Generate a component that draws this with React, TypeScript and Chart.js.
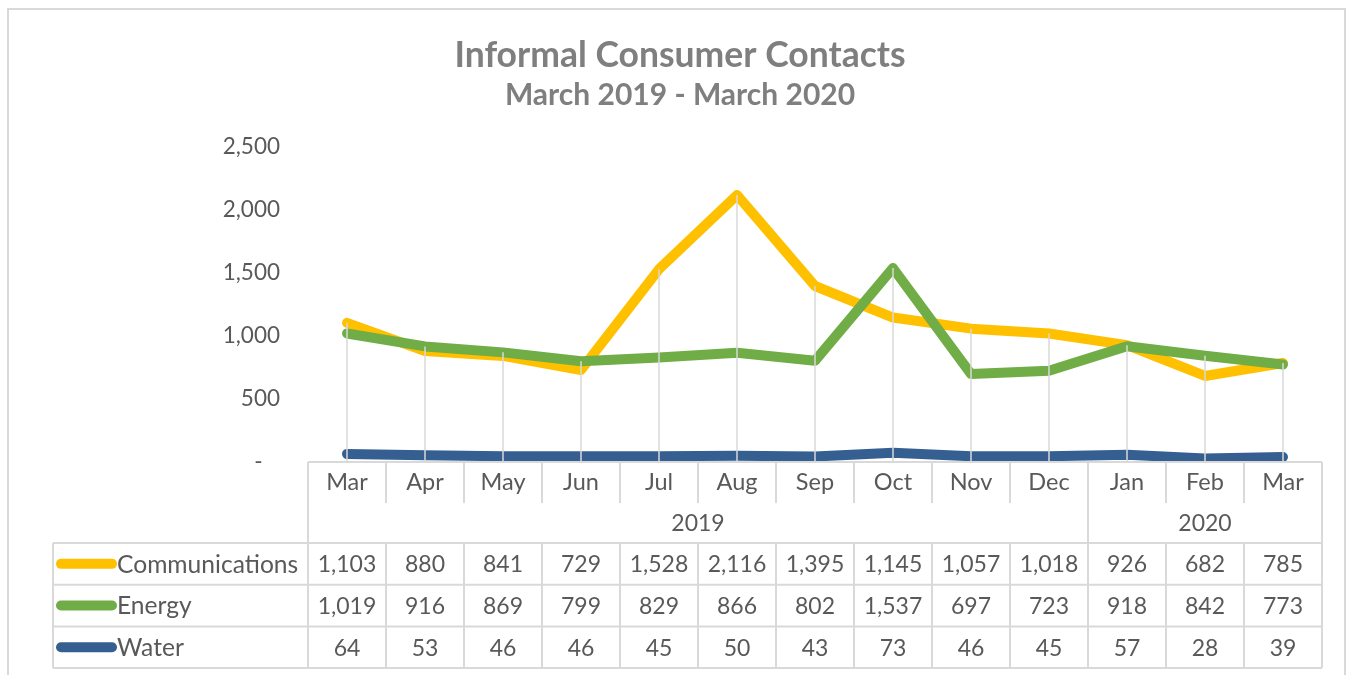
import React, { useEffect, useRef } from 'react';
import { Chart, registerables } from 'chart.js';

Chart.register(...registerables);

const months = ['Mar', 'Apr', 'May', 'Jun', 'Jul', 'Aug', 'Sep', 'Oct', 'Nov', 'Dec', 'Jan', 'Feb', 'Mar'];
const years = ['2019', '2020'];
const yearSpans = [10, 3];
const communications = [1103, 880, 841, 729, 1528, 2116, 1395, 1145, 1057, 1018, 926, 682, 785];
const energy = [1019, 916, 869, 799, 829, 866, 802, 1537, 697, 723, 918, 842, 773];
const water = [64, 53, 46, 46, 45, 50, 43, 73, 46, 45, 57, 28, 39];
const seriesNames = ['Communications', 'Energy', 'Water'];
const seriesData = [communications, energy, water];
const seriesColors = ['#FFC000', '#70AD47', '#355F91'];
const yMax = 2500;
const yStep = 500;
const titleText = 'Informal Consumer Contacts';
const subtitleText = 'March 2019 - March 2020';

const FONT = 'Lato';
const TEXT = '#595959';
const LINE = '#d9d9d9';

const fmt = (v: number) => v.toLocaleString('en-US');

const framePlugin = {
  id: 'frame',
  beforeDraw(chart: any) {
    const { ctx, width, height } = chart;
    ctx.save();
    ctx.fillStyle = '#ffffff';
    ctx.fillRect(0, 0, width, height);
    ctx.strokeStyle = LINE;
    ctx.lineWidth = 2;
    ctx.strokeRect(8, 9, width - 16, height + 20);
    ctx.restore();
  },
};

const dropLinePlugin = {
  id: 'dropLines',
  afterDatasetsDraw(chart: any) {
    const { ctx, chartArea, scales } = chart;
    const x = scales.x;
    const y = scales.y;
    ctx.save();
    ctx.strokeStyle = LINE;
    ctx.lineWidth = 1.5;
    for (let i = 0; i < months.length; i++) {
      let top = chartArea.bottom;
      seriesData.forEach((d) => {
        top = Math.min(top, y.getPixelForValue(d[i]));
      });
      const px = x.getPixelForValue(i);
      ctx.beginPath();
      ctx.moveTo(px, top);
      ctx.lineTo(px, chartArea.bottom);
      ctx.stroke();
    }
    ctx.restore();
  },
};

const tablePlugin = {
  id: 'dataTable',
  afterDraw(chart: any) {
    const { ctx, chartArea, scales } = chart;
    const x = scales.x;
    const n = months.length;
    const half = (x.getPixelForValue(1) - x.getPixelForValue(0)) / 2;
    const left = x.getPixelForValue(0) - half;
    const right = x.getPixelForValue(n - 1) + half;
    const top = chartArea.bottom;
    const monthBottom = top + 41;
    const yearBottom = monthBottom + 40;
    const rowH = 41.7;
    const legendLeft = 53;
    const tableBottom = yearBottom + rowH * seriesNames.length;

    ctx.save();
    ctx.strokeStyle = LINE;
    ctx.lineWidth = 2;
    const line = (x1: number, y1: number, x2: number, y2: number) => {
      ctx.beginPath();
      ctx.moveTo(x1, y1);
      ctx.lineTo(x2, y2);
      ctx.stroke();
    };
    line(left, top, right, top);
    for (let i = 0; i <= n; i++) {
      const bx = left + i * half * 2;
      line(bx, top, bx, monthBottom);
    }
    let acc = 0;
    line(left, monthBottom, left, yearBottom);
    yearSpans.forEach((s) => {
      acc += s;
      const bx = left + acc * half * 2;
      line(bx, monthBottom, bx, yearBottom);
    });
    for (let r = 0; r <= seriesNames.length; r++) {
      const yy = yearBottom + r * rowH;
      line(legendLeft, yy, right, yy);
    }
    line(legendLeft, yearBottom, legendLeft, tableBottom);
    for (let i = 0; i <= n; i++) {
      const bx = left + i * half * 2;
      line(bx, yearBottom, bx, tableBottom);
    }

    ctx.fillStyle = TEXT;
    ctx.font = `23px ${FONT}`;
    ctx.textAlign = 'center';
    ctx.textBaseline = 'middle';
    let start = 0;
    years.forEach((yl, k) => {
      const s = yearSpans[k];
      const cx = left + (start + s / 2) * half * 2;
      ctx.fillText(yl, cx, (monthBottom + yearBottom) / 2 + 1);
      start += s;
    });

    seriesNames.forEach((name, r) => {
      const cy = yearBottom + r * rowH + rowH / 2 + 1;
      ctx.strokeStyle = seriesColors[r];
      ctx.lineWidth = 10;
      ctx.lineCap = 'round';
      line(61, cy - 1, 112, cy - 1);
      ctx.fillStyle = TEXT;
      ctx.textAlign = 'left';
      ctx.font = `24.6px ${FONT}`;
      ctx.fillText(name, 117, cy);
      ctx.textAlign = 'center';
      ctx.font = `23px ${FONT}`;
      seriesData[r].forEach((v, i) => {
        ctx.fillText(fmt(v), x.getPixelForValue(i), cy);
      });
    });
    ctx.restore();
  },
};

export default function App() {
  const ref = useRef<HTMLCanvasElement | null>(null);
  useEffect(() => {
    document.body.style.margin = '0';
    if (!ref.current) return;
    const chart = new Chart(ref.current, {
      type: 'line',
      data: {
        labels: months,
        datasets: seriesNames.map((name, k) => ({
          label: name,
          data: seriesData[k],
          borderColor: seriesColors[k],
          backgroundColor: seriesColors[k],
          borderWidth: 10,
          borderCapStyle: 'round',
          borderJoinStyle: 'round',
          pointRadius: 0,
          tension: 0,
          fill: false,
          order: seriesNames.length - k,
        })),
      },
      options: {
        animation: false,
        responsive: false,
        layout: { padding: { left: 38, right: 31, top: 0, bottom: 172 } },
        plugins: {
          legend: { display: false },
          tooltip: { enabled: false },
          title: {
            display: true,
            text: titleText,
            color: '#7f7f7f',
            font: { family: FONT, size: 35.5, weight: 'bold', lineHeight: 1.2 },
            padding: { top: 34, bottom: 0 },
          },
          subtitle: {
            display: true,
            text: subtitleText,
            color: '#7f7f7f',
            font: { family: FONT, size: 30, weight: 'bold', lineHeight: 1.2 },
            padding: { top: 1, bottom: 33 },
          },
        },
        scales: {
          x: {
            type: 'category',
            offset: true,
            grid: { display: false, drawTicks: false },
            border: { display: false },
            ticks: {
              color: TEXT,
              font: { family: FONT, size: 23.5, lineHeight: 1.2 },
              padding: 6,
              maxRotation: 0,
              autoSkip: false,
            },
            afterFit: (s: any) => {
              s.height = 41;
            },
          },
          y: {
            min: 0,
            max: yMax,
            grid: { display: false, drawTicks: false },
            border: { display: false },
            ticks: {
              stepSize: yStep,
              color: TEXT,
              font: { family: FONT, size: 22.5 },
              padding: 28,
              callback: (v: any) => (Number(v) === 0 ? '-   ' : fmt(Number(v))),
            },
            afterFit: (s: any) => {
              s.width = 270;
            },
          },
        },
      },
      plugins: [framePlugin, dropLinePlugin, tablePlugin],
    } as any);
    return () => chart.destroy();
  }, []);
  return (
    <div style={{ width: 1353, height: 675 }}>
      <canvas ref={ref} width={1353} height={675} style={{ display: 'block' }} />
    </div>
  );
}
